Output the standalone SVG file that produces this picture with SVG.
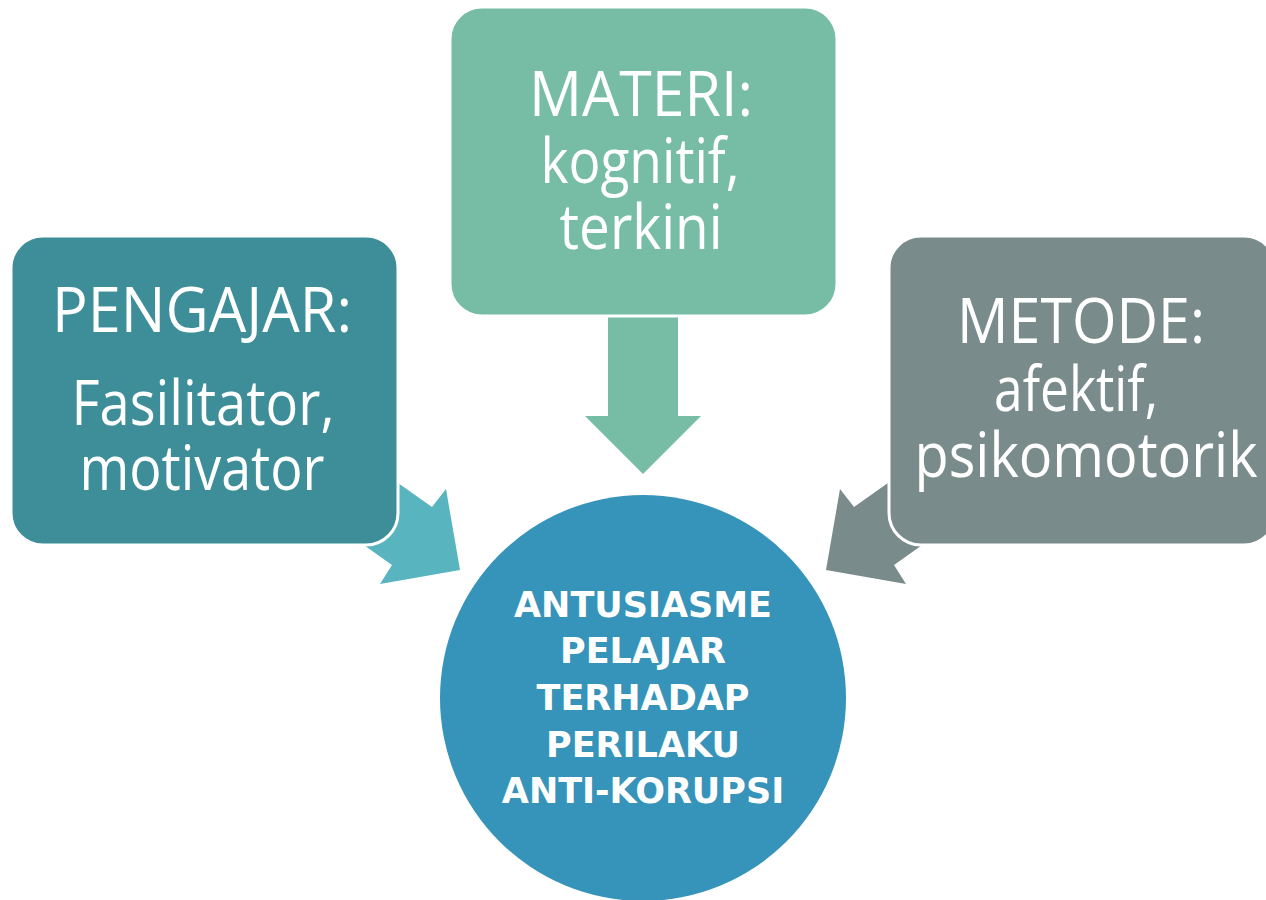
<svg xmlns="http://www.w3.org/2000/svg" width="1266" height="900" viewBox="0 0 1266 900">
<style>
.box{stroke:#ffffff;stroke-width:3}
.t{font-family:"Open Sans","Noto Sans",sans-serif;font-size:62px;fill:#ffffff;text-anchor:middle}
.c{font-family:"DejaVu Sans",sans-serif;font-weight:bold;font-size:35px;fill:#ffffff;text-anchor:middle}
</style>
<rect width="1266" height="900" fill="#ffffff"/>
<g id="connectors">
<polygon points="367,461 432,507 446,489 460,570 380,584 392,565 327,519" fill="#58B5C0"/>
<polygon points="608,300 678,300 678,416 701,416 643,474 585,416 608,416" fill="#77BDA6"/>
<polygon points="919,461 854,507 840,489 826,570 906,584 894,565 959,519" fill="#7A8B8C"/>
</g>
<g id="node-pengajar">
<rect class="box" x="11" y="236" width="387" height="309" rx="32" fill="#3D8E99"/>
<text class="t" x="202" y="332" textLength="300" lengthAdjust="spacingAndGlyphs">PENGAJAR:</text>
<text class="t" x="203" y="425" textLength="263" lengthAdjust="spacingAndGlyphs">Fasilitator,</text>
<text class="t" x="202" y="490" textLength="245" lengthAdjust="spacingAndGlyphs">motivator</text>
</g>
<g id="node-materi">
<rect class="box" x="450" y="7" width="387" height="309" rx="32" fill="#77BDA6"/>
<text class="t" x="641" y="116" textLength="224" lengthAdjust="spacingAndGlyphs">MATERI:</text>
<text class="t" x="640" y="183" textLength="199" lengthAdjust="spacingAndGlyphs">kognitif,</text>
<text class="t" x="641" y="249" textLength="163" lengthAdjust="spacingAndGlyphs">terkini</text>
</g>
<g id="node-metode">
<rect class="box" x="889" y="236" width="387" height="309" rx="32" fill="#7A8B8C"/>
<text class="t" x="1081" y="343" textLength="248" lengthAdjust="spacingAndGlyphs">METODE:</text>
<text class="t" x="1076" y="411" textLength="164" lengthAdjust="spacingAndGlyphs">afektif,</text>
<text class="t" x="1086" y="477" textLength="343" lengthAdjust="spacingAndGlyphs">psikomotorik</text>
</g>
<g id="node-antusiasme">
<circle cx="643" cy="698" r="203" fill="#3693BA"/>
<text class="c" x="643" y="617">ANTUSIASME</text>
<text class="c" x="643" y="663">PELAJAR</text>
<text class="c" x="643" y="710">TERHADAP</text>
<text class="c" x="643" y="757">PERILAKU</text>
<text class="c" x="643" y="803">ANTI-KORUPSI</text>
</g>
</svg>
